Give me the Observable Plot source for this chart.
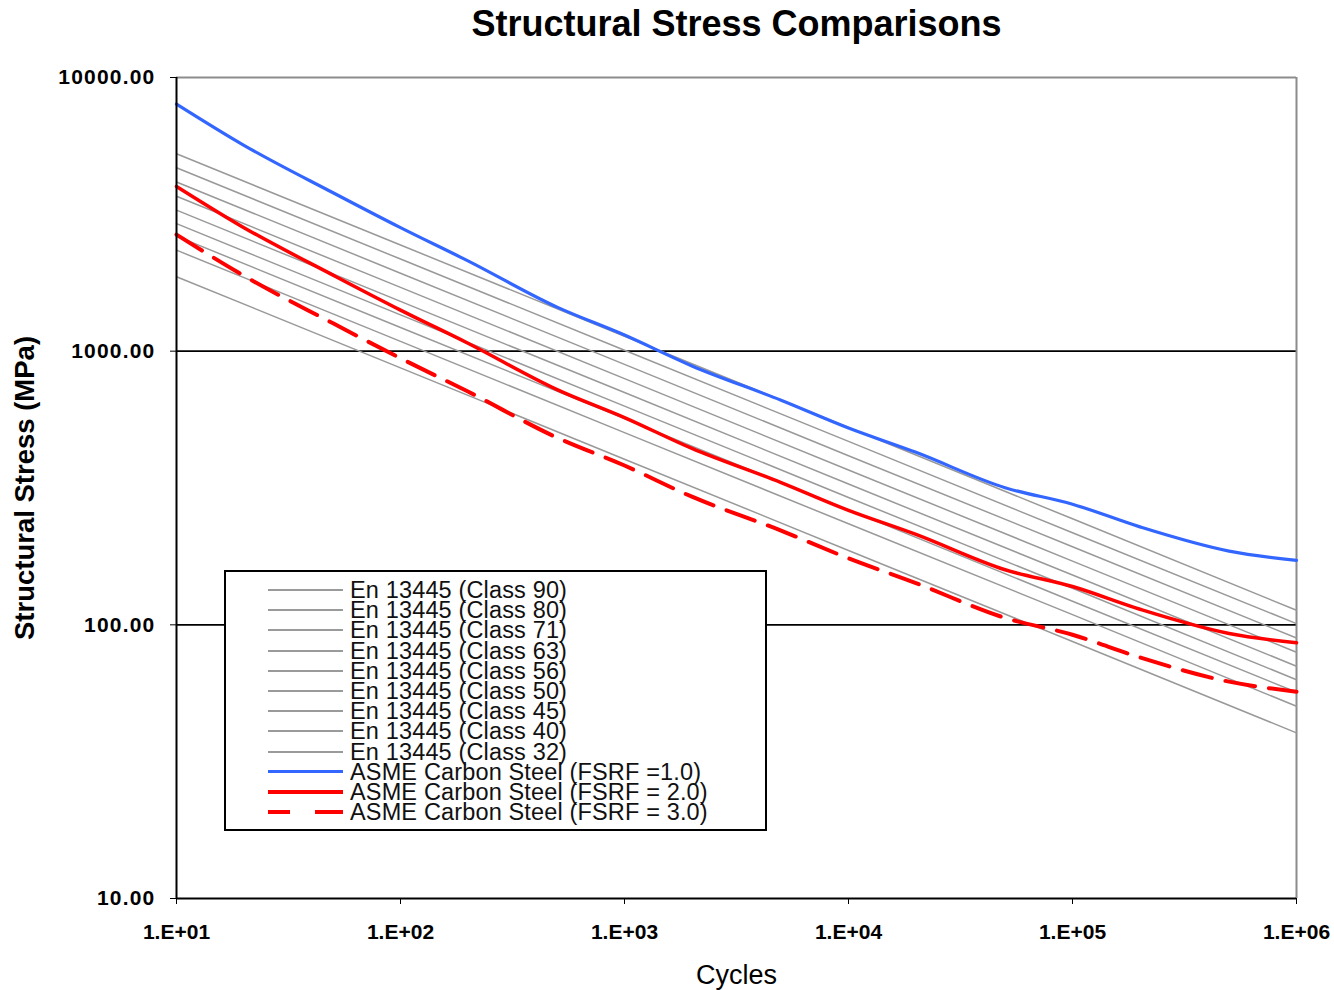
<!DOCTYPE html>
<html>
<head>
<meta charset="utf-8">
<script src="https://cdn.jsdelivr.net/npm/d3@7"></script>
<script src="https://cdn.jsdelivr.net/npm/@observablehq/plot@0.6"></script>
<style>
  html, body { margin: 0; padding: 0; background: #fff; }
  #wrap { position: relative; width: 1334px; height: 990px; }
  #legend {
    position: absolute; left: 224px; top: 570px;
    border: 2px solid #000; background: #fff;
    font-family: "Liberation Sans", Arial, sans-serif; font-size: 23.5px; color: #111;
    padding-top: 8px; box-sizing: border-box; width: 543px; height: 261px;
  }
  .row { height: 20.2px; line-height: 20.2px; display: flex; align-items: center; white-space: nowrap; }
  .row span { letter-spacing: 0.15px; }
  .sw { width: 75px; margin-left: 42px; margin-right: 7px; height: 0; flex: none; }
  g[aria-label="y-axis tick label"] text { letter-spacing: 1.2px; }
</style>
</head>
<body>
<div id="wrap"></div>
<script>
// ---- data ----
const chartTitle = "Structural Stress Comparisons";
const xTitle = "Cycles";
const yTitle = "Structural Stress (MPa)";

const xTicks = [10, 100, 1000, 10000, 100000, 1000000];
const xTickLabels = ["1.E+01", "1.E+02", "1.E+03", "1.E+04", "1.E+05", "1.E+06"];
const yTicks = [10, 100, 1000, 10000];
const yTickLabels = ["10.00", "100.00", "1000.00", "10000.00"];

// EN 13445 classes, values read at each decade of cycles
const enCycles = [10, 100, 1000, 10000, 100000, 1000000];
const enNames = ["Class 90", "Class 80", "Class 71", "Class 63", "Class 56", "Class 50", "Class 45", "Class 40", "Class 32"];
const en90 = [5263, 2443, 1134, 526, 244, 113];
const en80 = [4678, 2171, 1008, 468, 217, 101];
const en71 = [4152, 1927, 895, 415, 193, 89.5];
const en63 = [3684, 1710, 794, 368, 171, 79.4];
const en56 = [3275, 1520, 706, 327, 152, 70.6];
const en50 = [2924, 1357, 630, 292, 136, 63];
const en45 = [2632, 1221, 567, 263, 122, 56.7];
const en40 = [2339, 1086, 504, 234, 109, 50.4];
const en32 = [1871, 869, 403, 187, 86.9, 40.3];

// ASME carbon steel curves
const asmeCycles = [10, 20, 50, 100, 200, 500, 1000, 2000, 5000, 10000, 20000, 50000, 100000, 200000, 500000, 1000000];
const asmeFsrf1 = [7998, 5654, 3792, 2827, 2137, 1448, 1145, 883, 662, 524, 427, 317, 276, 228, 186, 172];
const asmeFsrf2 = [3999, 2827, 1896, 1413, 1069, 724, 572, 441, 331, 262, 214, 159, 138, 114, 93, 86];
const asmeFsrf3 = [2666, 1885, 1264, 942, 712, 483, 382, 294, 221, 175, 142, 106, 92, 76, 62, 57];

const asmeNames = ["ASME Carbon Steel (FSRF =1.0)", "ASME Carbon Steel (FSRF = 2.0)", "ASME Carbon Steel (FSRF = 3.0)"];

// ---- build tables ----
const enValues = [en90, en80, en71, en63, en56, en50, en45, en40, en32];
const enRows = [];
enValues.forEach((vals, k) => vals.forEach((v, i) => enRows.push({series: enNames[k], N: enCycles[i], S: v})));
const toRows = vals => vals.map((v, i) => ({N: asmeCycles[i], S: v}));
const a1 = toRows(asmeFsrf1), a2 = toRows(asmeFsrf2), a3 = toRows(asmeFsrf3);

const xFmt = new Map(xTicks.map((t, i) => [t, xTickLabels[i]]));
const yFmt = new Map(yTicks.map((t, i) => [t, yTickLabels[i]]));

const chart = Plot.plot({
  width: 1334, height: 990,
  marginLeft: 176, marginRight: 38, marginTop: 77, marginBottom: 92,
  x: {type: "log", domain: [10, 1000000]},
  y: {type: "log", domain: [10, 10000]},
  style: {fontFamily: "'Liberation Sans', Arial, sans-serif", background: "#fff", color: "#000", overflow: "visible"},
  marks: [
    Plot.ruleY([1000, 100], {stroke: "#000", strokeWidth: 1.6}),
    Plot.ruleY([10000], {stroke: "#8c8c8c", strokeWidth: 2}),
    Plot.ruleX([1000000], {stroke: "#8c8c8c", strokeWidth: 2}),
    Plot.line(enRows, {x: "N", y: "S", z: "series", stroke: "#999999", strokeWidth: 1.5}),
    Plot.line(a1, {x: "N", y: "S", stroke: "#3366ff", strokeWidth: 3.2, curve: "monotone-x"}),
    Plot.line(a2, {x: "N", y: "S", stroke: "#ff0000", strokeWidth: 3.5, curve: "monotone-x"}),
    Plot.line(a3, {x: "N", y: "S", stroke: "#ff0000", strokeWidth: 4, strokeDasharray: "30,14", curve: "monotone-x"}),
    Plot.ruleX([10], {stroke: "#000", strokeWidth: 2}),
    Plot.ruleY([10], {stroke: "#000", strokeWidth: 2}),
    Plot.axisX({ticks: xTicks, tickFormat: d => xFmt.get(d), tickSize: 6, tickPadding: 20, fontSize: 21, fontWeight: "bold", label: null, stroke: "#000"}),
    Plot.axisY({ticks: yTicks, tickFormat: d => yFmt.get(d), tickSize: 6, tickPadding: 15, fontSize: 21, fontWeight: "bold", label: null, stroke: "#000"}),
    Plot.text([chartTitle], {text: d => d, frameAnchor: "top", lineAnchor: "middle", dy: -53, fontSize: 36, fontWeight: "bold", fill: "#000"}),
    Plot.text([xTitle], {text: d => d, frameAnchor: "bottom", lineAnchor: "middle", dy: 77, fontSize: 27, fill: "#000"}),
    Plot.text([yTitle], {text: d => d, frameAnchor: "left", lineAnchor: "middle", textAnchor: "middle", rotate: -90, dx: -151, fontSize: 27.5, fontWeight: "bold", fill: "#000"})
  ]
});

const wrap = document.getElementById("wrap");
wrap.appendChild(chart);

// ---- legend ----
const legend = document.createElement("div");
legend.id = "legend";
const entries = [
  ...enNames.map(n => ({label: "En 13445 (" + n + ")", style: "border-top: 2px solid #9a9a9a"})),
  {label: asmeNames[0], style: "border-top: 3px solid #3366ff"},
  {label: asmeNames[1], style: "border-top: 4px solid #ff0000"},
  {label: asmeNames[2], style: "height: 4px; background: linear-gradient(90deg, #ff0000 0 30%, transparent 30% 63%, #ff0000 63% 100%)"}
];
entries.forEach(e => {
  const row = document.createElement("div");
  row.className = "row";
  const sw = document.createElement("div");
  sw.className = "sw";
  sw.setAttribute("style", e.style);
  const tx = document.createElement("span");
  tx.textContent = e.label;
  row.appendChild(sw);
  row.appendChild(tx);
  legend.appendChild(row);
});
wrap.appendChild(legend);
</script>
</body>
</html>
